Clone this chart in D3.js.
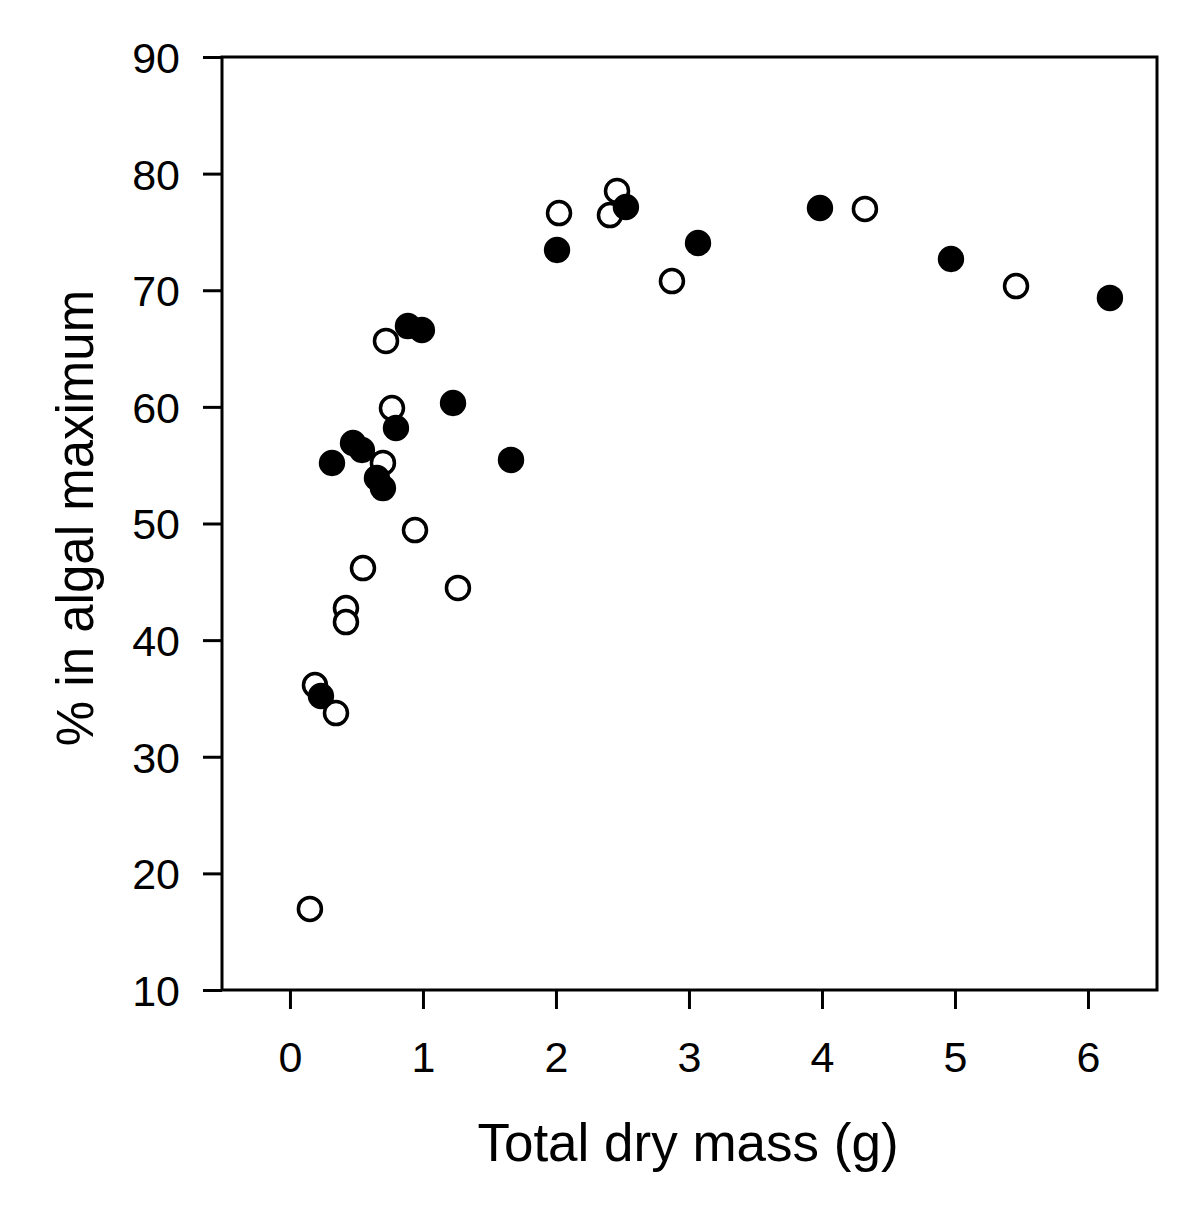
<!DOCTYPE html>
<html><head><meta charset="utf-8">
<script src="https://cdn.jsdelivr.net/npm/d3@7"></script>
<style>body{margin:0;background:#fff}svg{display:block}text{font-family:Arial,"Liberation Sans",sans-serif;fill:#000}</style>
</head><body>
<svg id="c" width="1200" height="1207"></svg>
<script>
const openX = [0.722,0.767,0.699,0.940,0.549,1.263,0.421,0.421,0.188,0.346,0.150,2.023,2.459,2.406,2.872,4.323,5.459];
const openY = [65.65,59.9,55.19,49.44,46.18,44.47,42.75,41.55,36.15,33.75,16.95,76.62,78.51,76.45,70.79,76.97,70.36];
const filledX = [0.887,0.992,1.226,0.797,0.474,0.541,0.316,0.654,0.699,0.233,2.008,2.526,3.068,3.985,4.970,6.165,1.662];
const filledY = [66.93,66.59,60.33,58.19,56.9,56.3,55.19,53.9,53.04,35.21,73.45,77.14,74.05,77.05,72.68,69.34,55.45];
const xTicks = [0,1,2,3,4,5,6];
const yTicks = [10,20,30,40,50,60,70,80,90];
const xLabel = "Total dry mass (g)";
const yLabel = "% in algal maximum";

const L=222,R=1157,T=57,B=990;
const svg=d3.select("#c");
const x=d3.scaleLinear().domain([-0.511,6.519]).range([L,R]);
const y=d3.scaleLinear().domain([10,90]).range([B,T]);

const xa=svg.append("g").attr("transform",`translate(0,${B})`)
 .call(d3.axisBottom(x).tickValues(xTicks).tickSize(19).tickFormat(d3.format("d")));
const ya=svg.append("g").attr("transform",`translate(${L},0)`)
 .call(d3.axisLeft(y).tickValues(yTicks).tickSize(19).tickPadding(23).tickFormat(d3.format("d")));
[xa,ya].forEach(a=>{a.select(".domain").remove();a.selectAll("line").attr("stroke","#000").attr("stroke-width",3);
 a.selectAll("text").style("font-size","43px").attr("fill","#000");});
xa.selectAll("text").attr("y",82).attr("dy",0);
ya.selectAll("text").attr("dy","0.36em");
svg.append("rect").attr("x",L).attr("y",T).attr("width",R-L).attr("height",B-T)
 .attr("fill","none").attr("stroke","#000").attr("stroke-width",3);

svg.append("g").selectAll("circle").data(openX.map((v,i)=>[v,openY[i]])).join("circle")
 .attr("cx",d=>x(d[0])).attr("cy",d=>y(d[1])).attr("r",11.5)
 .attr("fill","#fff").attr("stroke","#000").attr("stroke-width",3.5);
svg.append("g").selectAll("circle").data(filledX.map((v,i)=>[v,filledY[i]])).join("circle")
 .attr("cx",d=>x(d[0])).attr("cy",d=>y(d[1])).attr("r",13.2).attr("fill","#000");

svg.append("text").attr("x",688).attr("y",1161).attr("text-anchor","middle")
 .style("font-size","53px").text(xLabel);
svg.append("text").attr("transform",`translate(93,518) rotate(-90)`).attr("text-anchor","middle")
 .style("font-size","51px").text(yLabel);
</script>
</body></html>
